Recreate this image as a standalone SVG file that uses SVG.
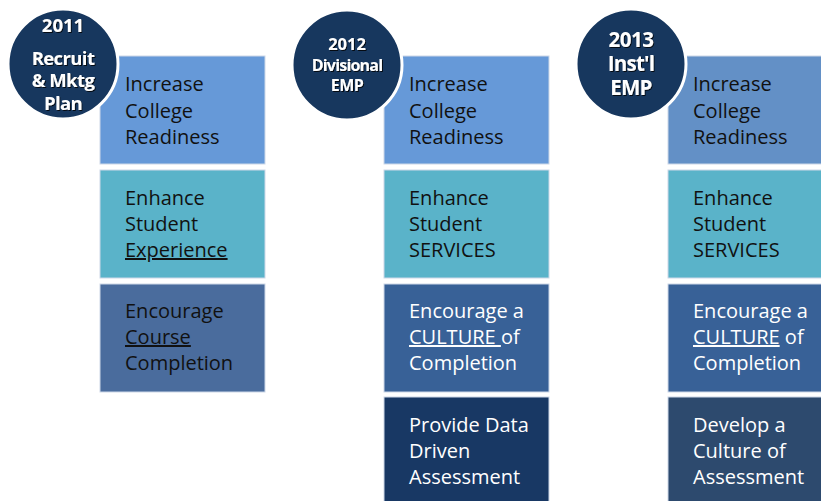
<svg xmlns="http://www.w3.org/2000/svg" width="821" height="501" viewBox="0 0 821 501">
  <defs>
    <filter id="shadow" x="-20%" y="-20%" width="140%" height="140%">
      <feDropShadow dx="1" dy="1" stdDeviation="0.6" flood-color="#000" flood-opacity="0.8"/>
    </filter>
  </defs>
  <style>
    .box { stroke: #cdd8e8; stroke-width: 1; }
    .b1 { fill: #6699d8; }
    .b1c { fill: #6390c6; }
    .b2 { fill: #5ab3c9; }
    .b3a { fill: #4a6c9d; }
    .b3 { fill: #386197; }
    .b4 { fill: #183864; }
    .b4c { fill: #2d4a6e; }
    .disc { fill: #17375e; stroke: #ffffff; stroke-width: 3; }
    .t { font-family: "Open Sans", "Noto Sans", sans-serif; font-size: 20px; fill: #111111; }
    .w { fill: #ffffff; }
    .u { text-decoration: underline; }
    .c { font-family: "Open Sans", "Noto Sans", sans-serif; font-weight: bold; fill: #ffffff; text-anchor: middle; filter: url(#shadow); }
  </style>

  <!-- Column 1: 2011 -->
  <g id="col2011-b1">
    <rect class="box b1" x="100" y="56" width="165" height="108"/>
    <text class="t" x="125" y="91">Increase</text>
    <text class="t" x="125" y="118">College</text>
    <text class="t" x="125" y="144">Readiness</text>
  </g>
  <g id="col2011-b2">
    <rect class="box b2" x="100" y="170" width="165" height="108"/>
    <text class="t" x="125" y="205">Enhance</text>
    <text class="t" x="125" y="231">Student</text>
    <text class="t u" x="125" y="257">Experience</text>
  </g>
  <g id="col2011-b3">
    <rect class="box b3a" x="100" y="284" width="165" height="108"/>
    <text class="t" x="125" y="318">Encourage</text>
    <text class="t" x="125" y="344"><tspan class="u">Course</tspan></text>
    <text class="t" x="125" y="370">Completion</text>
  </g>
  <g id="col2011-head">
    <circle class="disc" cx="63" cy="64" r="55"/>
    <text class="c" x="63" y="32" font-size="18.5">2011</text>
    <text class="c" font-size="18.5" letter-spacing="-0.6"><tspan x="63" y="65">Recruit</tspan><tspan x="63" y="87">&amp; Mktg</tspan><tspan x="63" y="110">Plan</tspan></text>
  </g>

  <!-- Column 2: 2012 -->
  <g id="col2012-b1">
    <rect class="box b1" x="384" y="56" width="165" height="108"/>
    <text class="t" x="409" y="91">Increase</text>
    <text class="t" x="409" y="118">College</text>
    <text class="t" x="409" y="144">Readiness</text>
  </g>
  <g id="col2012-b2">
    <rect class="box b2" x="384" y="170" width="165" height="108"/>
    <text class="t" x="409" y="205">Enhance</text>
    <text class="t" x="409" y="231">Student</text>
    <text class="t" x="409" y="257">SERVICES</text>
  </g>
  <g id="col2012-b3">
    <rect class="box b3" x="384" y="284" width="165" height="108"/>
    <text class="t w" x="409" y="318">Encourage a</text>
    <text class="t w" x="409" y="344" xml:space="preserve"><tspan class="u">CULTURE </tspan>of</text>
    <text class="t w" x="409" y="370">Completion</text>
  </g>
  <g id="col2012-b4">
    <rect class="box b4" x="384" y="397" width="165" height="110"/>
    <text class="t w" x="409" y="432">Provide Data</text>
    <text class="t w" x="409" y="458">Driven</text>
    <text class="t w" x="409" y="484">Assessment</text>
  </g>
  <g id="col2012-head">
    <circle class="disc" cx="347" cy="65" r="55"/>
    <text class="c" x="347" y="50" font-size="16.5">2012</text>
    <text class="c" font-size="16"><tspan x="347" y="71" letter-spacing="-0.8">Divisional</tspan><tspan x="347" y="91" letter-spacing="-0.5">EMP</tspan></text>
  </g>

  <!-- Column 3: 2013 -->
  <g id="col2013-b1">
    <rect class="box b1c" x="668" y="56" width="160" height="108"/>
    <text class="t" x="693" y="91">Increase</text>
    <text class="t" x="693" y="118">College</text>
    <text class="t" x="693" y="144">Readiness</text>
  </g>
  <g id="col2013-b2">
    <rect class="box b2" x="668" y="170" width="160" height="108"/>
    <text class="t" x="693" y="205">Enhance</text>
    <text class="t" x="693" y="231">Student</text>
    <text class="t" x="693" y="257">SERVICES</text>
  </g>
  <g id="col2013-b3">
    <rect class="box b3" x="668" y="284" width="160" height="108"/>
    <text class="t w" x="693" y="318">Encourage a</text>
    <text class="t w" x="693" y="344" xml:space="preserve"><tspan class="u">CULTURE</tspan> of</text>
    <text class="t w" x="693" y="370">Completion</text>
  </g>
  <g id="col2013-b4">
    <rect class="box b4c" x="668" y="397" width="160" height="110"/>
    <text class="t w" x="693" y="432">Develop a</text>
    <text class="t w" x="693" y="458">Culture of</text>
    <text class="t w" x="693" y="484">Assessment</text>
  </g>
  <g id="col2013-head">
    <circle class="disc" cx="631" cy="64" r="55"/>
    <text class="c" font-size="20.5"><tspan x="631" y="47" letter-spacing="-0.5">2013</tspan><tspan x="631" y="71" letter-spacing="-0.8">Inst'l</tspan><tspan x="631" y="95" letter-spacing="-0.8">EMP</tspan></text>
  </g>
</svg>
